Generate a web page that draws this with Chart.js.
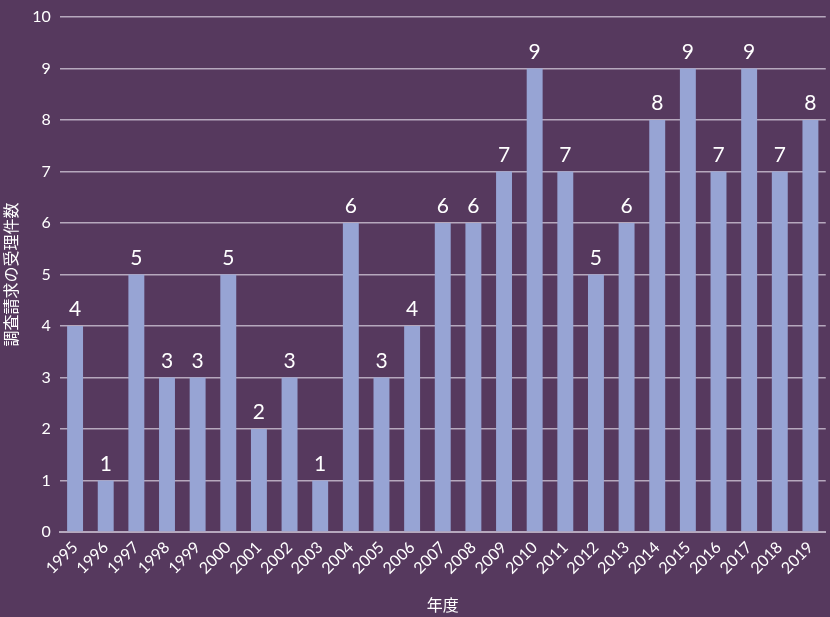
<!DOCTYPE html>
<html>
<head>
<meta charset="utf-8">
<script src="https://cdn.jsdelivr.net/npm/chart.js"></script>
<style>
  html, body { margin: 0; padding: 0; background: #56395e; }
  #wrap { width: 830px; height: 617px; }
</style>
</head>
<body>
<div id="wrap"><canvas id="chart"></canvas></div>
<script>
const years = ['1995','1996','1997','1998','1999','2000','2001','2002','2003','2004','2005','2006','2007','2008','2009','2010','2011','2012','2013','2014','2015','2016','2017','2018','2019'];
const counts = [4,1,5,3,3,5,2,3,1,6,3,4,6,6,7,9,7,5,6,8,9,7,9,7,8];
const yTitle = '調査請求の受理件数';
const xTitle = '年度';

const fontFamily = 'Lato, "Noto Sans CJK JP", sans-serif';

// draws the number above each bar
const valueLabels = {
	id: 'valueLabels',
	afterDatasetsDraw(chart) {
		const ctx = chart.ctx;
		const meta = chart.getDatasetMeta(0);
		ctx.save();
		ctx.fillStyle = '#ffffff';
		ctx.font = '21px ' + fontFamily;
		ctx.textAlign = 'center';
		ctx.textBaseline = 'bottom';
		meta.data.forEach(function(bar, i) {
			ctx.fillText(counts[i], bar.x, bar.y - 6);
		});
		ctx.restore();
	}
};

new Chart(document.getElementById('chart'), {
	type: 'bar',
	data: {
		labels: years,
		datasets: [{
			data: counts,
			backgroundColor: '#97a4d4',
			borderWidth: 0,
			barPercentage: 0.52,
			categoryPercentage: 1
		}]
	},
	options: {
		responsive: true,
		maintainAspectRatio: false,
		animation: false,
		layout: { padding: { top: -7, right: 0, left: 2, bottom: 0 } },
		plugins: {
			legend: { display: false },
			tooltip: { enabled: false }
		},
		scales: {
			x: {
				grid: { display: false, drawTicks: false },
				border: { display: true, color: '#b6a8bd', width: 2 },
				ticks: {
					color: '#ffffff',
					font: { family: fontFamily, size: 16 },
					autoSkip: false,
					minRotation: 45,
					maxRotation: 45,
					padding: 6
				},
				title: {
					display: true,
					text: xTitle,
					color: '#ffffff',
					font: { family: fontFamily, size: 16 },
					padding: { top: 12, bottom: 2 }
				}
			},
			y: {
				min: 0,
				max: 10,
				grid: { color: '#b6a8bd', lineWidth: 1.5, drawTicks: false },
				border: { display: false },
				ticks: {
					stepSize: 1,
					color: '#ffffff',
					font: { family: fontFamily, size: 16, lineHeight: 1 },
					padding: 9
				},
				title: {
					display: true,
					text: yTitle,
					color: '#ffffff',
					font: { family: fontFamily, size: 16 },
					padding: { top: 0, bottom: 2 }
				}
			}
		}
	},
	plugins: [valueLabels]
});
</script>
</body>
</html>
